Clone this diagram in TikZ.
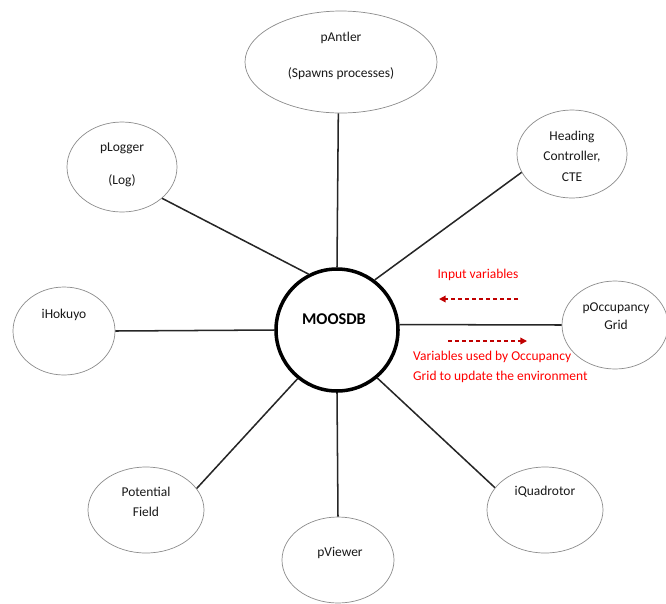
\documentclass[tikz,border=0pt]{standalone}
\usepackage{fontspec}
\setmainfont{Carlito}
\usepackage{tikz}
\usetikzlibrary{positioning,arrows.meta,calc,shapes.geometric}
\definecolor{flowred}{RGB}{192,0,0}
\tikzset{
  % --- generic nodes ---------------------------------------------------
  proc/.style    ={ellipse, draw=black!45, line width=0.6pt, fill=white,
                   inner sep=0},                             % MOOS process
  db/.style      ={circle, draw=black, line width=3pt, fill=white,
                   minimum size=3.66cm, inner sep=0},        % database hub
  txt/.style     ={font=\fontsize{11.5}{13.5}\selectfont, align=center,
                   inner sep=0, text=black!90},
  dbtxt/.style   ={font=\fontsize{14}{16}\selectfont\bfseries, inner sep=0},
  % --- connectors ------------------------------------------------------
  link/.style    ={line width=1.3pt, draw=black!85},
  flow/.style    ={-{Triangle[length=2mm,width=2mm]}, line width=1.2pt,
                   draw=flowred, dash pattern=on 3.5pt off 2.5pt},
  note/.style    ={font=\fontsize{11.5}{17}\selectfont, text=red, inner sep=0},
}

\begin{document}
\begin{tikzpicture}[x=0.03cm, y=-0.03cm]
  \useasboundingbox (0,0) rectangle (666,603);

  % ===================== hub =====================
  \node[db] (moos) at (337,330) {};
  \node[dbtxt] (moos-t) at (334,319) {MOOSDB};

  % ===================== processes =====================
  \node[proc, minimum width=5.76cm, minimum height=3.06cm] (antler) at (341,62) {};
  \node[txt] (antler-t) at (341,56) {pAntler\\[17pt](Spawns processes)};

  \node[proc, minimum width=3.3cm, minimum height=2.7cm] (logger) at (122,167) {};
  \node[txt] (logger-t) at (122,165) {pLogger\\[15pt](Log)};

  \node[proc, minimum width=3.3cm, minimum height=2.64cm] (heading) at (572,154) {};
  \node[txt] (heading-t) at (572,156) {Heading\\[4pt]Controller,\\[4pt]CTE};

  \node[proc, minimum width=3.06cm, minimum height=2.64cm] (hokuyo) at (64,331) {};
  \node[txt] (hokuyo-t) at (64,315) {iHokuyo};

  \node[proc, minimum width=3.18cm, minimum height=2.64cm] (occ) at (615,325) {};
  \node[txt] (occ-t) at (616,316) {pOccupancy\\[2pt]Grid};

  \node[proc, minimum width=3.48cm, minimum height=2.58cm] (field) at (146,510) {};
  \node[txt] (field-t) at (146,502) {Potential\\[3pt]Field};

  \node[proc, minimum width=3.36cm, minimum height=2.58cm] (viewer) at (338,560) {};
  \node[txt] (viewer-t) at (340,553) {pViewer};

  \node[proc, minimum width=3.48cm, minimum height=2.58cm] (quad) at (545,510) {};
  \node[txt] (quad-t) at (545,492) {iQuadrotor};

  % ===================== edges =====================
  \draw[link] (antler.-93) -- (moos.north);
  \draw[link] (logger.-38) -- (moos.117);
  \draw[link] (heading.200) -- (moos.53);
  \draw[link] (hokuyo.east) -- (moos.west);
  \draw[link] (occ.west) -- (moos.5);
  \draw[link] (field.23) -- (moos.-129);
  \draw[link] (viewer.north) -- (moos.south);
  \draw[link] (quad.156) -- (moos.-50);

  % ===================== data flow annotation =====================
  \coordinate (in-s) at (518,299);
  \coordinate (in-e) at (439,299);
  \coordinate (out-s) at (448,341);
  \coordinate (out-e) at (527,341);
  \draw[flow] (in-s) -- (in-e);
  \draw[flow] (out-s) -- (out-e);
  \node[note] (in-t) at (478,275) {Input variables};
  \node[note, align=left, anchor=west] (out-t) at (413,367)
    {Variables used by Occupancy\\Grid to update the environment};

\end{tikzpicture}
\end{document}
